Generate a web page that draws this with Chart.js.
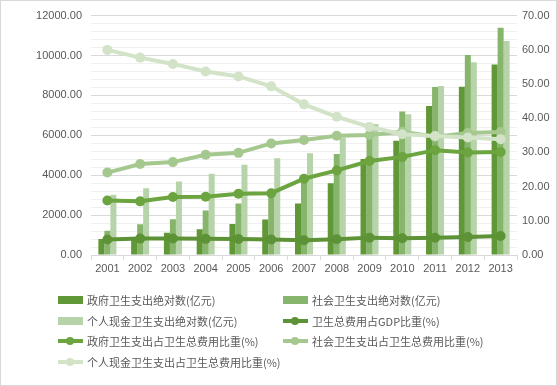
<!DOCTYPE html>
<html>
<head>
<meta charset="utf-8">
<script src="https://cdn.jsdelivr.net/npm/chart.js@4.4.1/dist/chart.umd.min.js"></script>
<style>
  body { margin: 0; background: #fff; }
  #wrap { position: relative; width: 557px; height: 386px; }
  #frame { position: absolute; left: 0; top: 0; width: 557px; height: 386px; box-sizing: border-box; border: 1px solid #d9d9d9; pointer-events: none; }
  .item { position: absolute; height: 20px; display: flex; align-items: center; white-space: nowrap;
          font: 11px "Noto Sans CJK SC", sans-serif; color: #595959; }
  .sym { position: relative; width: 25px; height: 20px; margin-right: 4px; }
</style>
</head>
<body>
<div id="wrap">
  <canvas id="chart" width="557" height="386"></canvas>
  <div id="legend"></div>
  <div id="frame"></div>
</div>
<script>
const years = ['2001', '2002', '2003', '2004', '2005', '2006', '2007', '2008', '2009', '2010', '2011', '2012', '2013'];

// 亿元
const govAbs = [800.61, 908.51, 1116.94, 1293.58, 1552.53, 1778.86, 2581.58, 3593.94, 4816.26, 5732.49, 7464.18, 8431.98, 9545.81];
const socAbs = [1211.43, 1539.38, 1788.50, 2225.35, 2586.41, 3210.92, 3893.72, 5065.60, 6154.49, 7196.61, 8416.45, 10030.70, 11393.79];
const perAbs = [3013.88, 3342.14, 3678.67, 4071.35, 4520.98, 4853.56, 5098.66, 5875.86, 6571.16, 7051.29, 8465.28, 9656.32, 10729.34];

// %
const gdpPct = [4.55, 4.79, 4.82, 4.72, 4.66, 4.52, 4.32, 4.59, 5.08, 4.89, 5.03, 5.26, 5.57];
const govPct = [15.93, 15.69, 16.96, 17.04, 17.93, 18.07, 22.31, 24.73, 27.46, 28.69, 30.66, 29.99, 30.14];
const socPct = [24.10, 26.59, 27.16, 29.32, 29.87, 32.62, 33.64, 34.85, 35.08, 36.02, 34.57, 35.67, 35.98];
const perPct = [59.97, 57.72, 55.87, 53.64, 52.21, 49.31, 44.05, 40.42, 37.46, 35.29, 34.77, 34.34, 33.88];

const leftTicks = { min: 0, max: 12000, step: 2000, minor: 400 };
const rightTicks = { min: 0, max: 70, step: 10 };

const tickFont = { family: '"Liberation Sans", sans-serif', size: 11 };
const textColor = '#595959';

function bar(label, data, color, order) {
  return { type: 'bar', label, data, backgroundColor: color, yAxisID: 'y', order,
           categoryPercentage: 0.55, barPercentage: 1.0 };
}
function line(label, data, color, order) {
  return { type: 'line', label, data, borderColor: color, backgroundColor: color, yAxisID: 'y1', order,
           borderWidth: 4, pointRadius: 5, pointBorderWidth: 0, pointBackgroundColor: color, tension: 0 };
}

// lower order is drawn on top and comes first inside a bar group
const datasets = [
  bar('政府卫生支出绝对数(亿元)', govAbs, '#609737', 5),
  bar('社会卫生支出绝对数(亿元)', socAbs, '#86b56b', 6),
  bar('个人现金卫生支出绝对数(亿元)', perAbs, '#b7d3a9', 7),
  line('卫生总费用占GDP比重(%)', gdpPct, '#5d9236', 4),
  line('政府卫生支出占卫生总费用比重(%)', govPct, '#6ca440', 3),
  line('社会卫生支出占卫生总费用比重(%)', socPct, '#a4c88e', 2),
  line('个人现金卫生支出占卫生总费用比重(%)', perPct, '#d2e3c8', 1)
];

new Chart(document.getElementById('chart'), {
  data: { labels: years, datasets },
  options: {
    responsive: false,
    animation: false,
    layout: { padding: { top: 10, left: 0, right: 0, bottom: 0 } },
    plugins: { legend: { display: false }, tooltip: { enabled: false } },
    scales: {
      x: {
        offset: true,
        grid: { offset: true, drawOnChartArea: false, drawTicks: true, tickLength: 5, color: '#d9d9d9' },
        border: { color: '#d9d9d9' },
        ticks: { color: textColor, font: tickFont, padding: 2, maxRotation: 0 },
        afterFit: s => { s.height = 386 - 255; }
      },
      y: {
        position: 'left',
        min: leftTicks.min, max: leftTicks.max,
        border: { display: false },
        grid: {
          drawTicks: false,
          color: ctx => (ctx.tick.value % leftTicks.step === 0 ? '#d9d9d9' : '#f0f0f0')
        },
        ticks: {
          stepSize: leftTicks.minor, autoSkip: false, padding: 9,
          color: textColor, font: tickFont,
          callback: v => (v % leftTicks.step === 0 ? v.toFixed(2) : '')
        },
        afterFit: s => { s.width = 91; }
      },
      y1: {
        position: 'right',
        min: rightTicks.min, max: rightTicks.max,
        border: { display: false },
        grid: { drawOnChartArea: false, drawTicks: false },
        ticks: { stepSize: rightTicks.step, padding: 5, color: textColor, font: tickFont,
                 callback: v => v.toFixed(2) },
        afterFit: s => { s.width = 557 - 517; }
      }
    }
  }
});

// legend, two columns like the original
const legend = document.getElementById('legend');
const colX = [58, 283];
datasets.forEach((ds, i) => {
  const item = document.createElement('div');
  item.className = 'item';
  item.style.left = colX[i % 2] + 'px';
  item.style.top = (290 + Math.floor(i / 2) * 20.5) + 'px';
  const sym = document.createElement('div');
  sym.className = 'sym';
  const c = ds.type === 'bar' ? ds.backgroundColor : ds.borderColor;
  if (ds.type === 'bar') {
    sym.innerHTML = `<div style="position:absolute;left:0;top:6px;width:25px;height:8px;background:${c}"></div>`;
  } else {
    sym.innerHTML = `<div style="position:absolute;left:0;top:8px;width:25px;height:4px;background:${c}"></div>` +
      `<div style="position:absolute;left:8px;top:6px;width:8px;height:8px;border-radius:50%;background:${c}"></div>`;
  }
  item.appendChild(sym);
  item.appendChild(document.createTextNode(ds.label));
  legend.appendChild(item);
});
</script>
</body>
</html>
